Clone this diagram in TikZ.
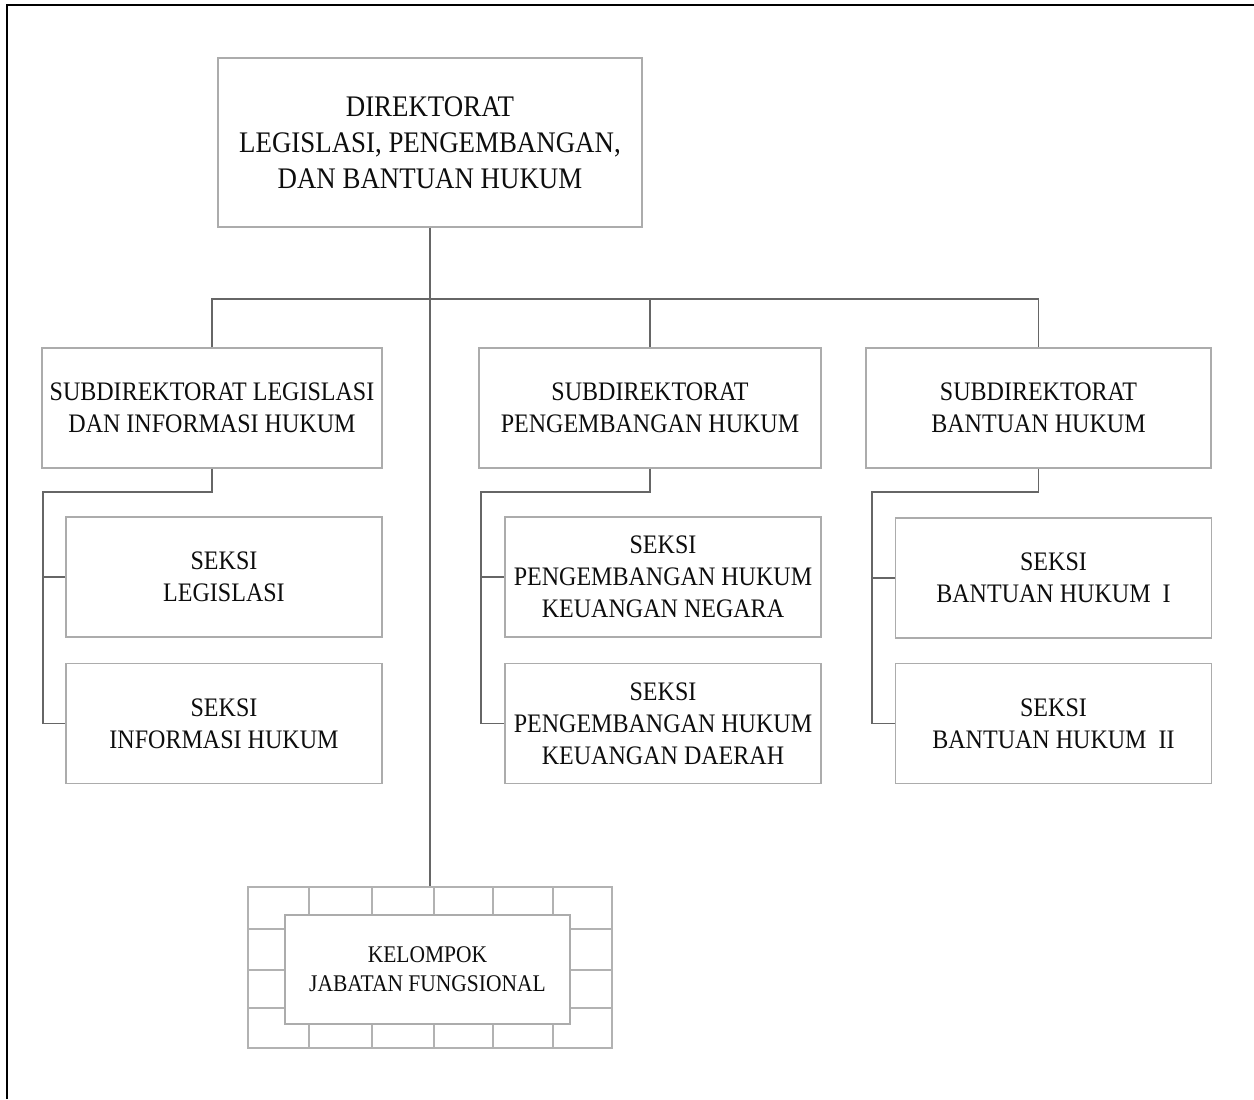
\documentclass[tikz,border=0pt]{standalone}
\usepackage{fontspec}
\setmainfont[FakeStretch=0.9]{Liberation Serif}
\usetikzlibrary{positioning}
\tikzset{
box/.style={ % Sets the properties for each unit box
draw=gray!65,
line width=0.8pt,
align=center,
inner sep=0pt,
text=black!95},
mainbox/.style={box, minimum width=8.48cm, minimum height=3.38cm, font=\fontsize{17}{20.5}\selectfont},
subbox/.style={box, minimum width=6.84cm, minimum height=2.4cm, font=\fontsize{15.2}{18.2}\selectfont},
seksibox/.style={box, minimum width=6.32cm, minimum height=2.4cm, font=\fontsize{15.2}{18.2}\selectfont},
kelbox/.style={box, fill=white, minimum width=5.7cm, minimum height=2.18cm, font=\fontsize{13.6}{16.4}\selectfont},
link/.style={draw=black!60, line width=0.8pt}, % Lines between the units
brick/.style={draw=gray!60, line width=0.7pt}}

\begin{document}
\begin{tikzpicture}[x=0.02cm, y=-0.02cm]
\useasboundingbox (0,0) rectangle (1254,1099);
\draw[line width=1.7pt] (7,1099) -- (7,5) -- (1254,5);
% units
\node[mainbox] (dir) at (430,142.5) {DIREKTORAT\\LEGISLASI, PENGEMBANGAN,\\DAN BANTUAN HUKUM};
\node[subbox, minimum width=6.8cm] (sub1) at (212,408) {SUBDIREKTORAT LEGISLASI\\DAN INFORMASI HUKUM};
\node[subbox] (sub2) at (650,408) {SUBDIREKTORAT\\PENGEMBANGAN HUKUM};
\node[subbox, minimum width=6.9cm] (sub3) at (1038.5,408) {SUBDIREKTORAT\\BANTUAN HUKUM};
\node[seksibox] (leg) at (224,577) {SEKSI\\LEGISLASI};
\node[seksibox, below=0.5cm of leg] (info) {SEKSI\\INFORMASI HUKUM};
\node[seksibox] (negara) at (663,577) {SEKSI\\PENGEMBANGAN HUKUM\\KEUANGAN NEGARA};
\node[seksibox, below=0.5cm of negara] (daerah) {SEKSI\\PENGEMBANGAN HUKUM\\KEUANGAN DAERAH};
\node[seksibox] (bh1) at (1053.5,578) {SEKSI\\BANTUAN HUKUM\ \ I};
\node[seksibox, below=0.48cm of bh1] (bh2) {SEKSI\\BANTUAN HUKUM\ \ II};
% functional group on a brick wall
\node[brick, minimum width=7.28cm, minimum height=3.22cm, inner sep=0pt] (grid) at (430,967.5) {};
\foreach \y in {929,970,1008}
  \draw[brick] (248,\y) -- (612,\y);
\foreach \x in {309,372,434,493,553} {
  \draw[brick] (\x,887) -- (\x,929);
  \draw[brick] (\x,1008) -- (\x,1048);
}
\node[kelbox] (kel) at (427.5,969.5) {KELOMPOK\\JABATAN FUNGSIONAL};
% connections
\coordinate (bus) at (430,299);
\coordinate (t1) at (43,492);
\coordinate (t2) at (481,492);
\coordinate (t3) at (872,492);
\draw[link] (dir.south) -- (grid.north);
\draw[link] (sub1.north) |- (bus) -| (sub3.north);
\draw[link] (sub2.north) -- (sub2.north |- bus);
\draw[link] (sub1.south) |- (t1) |- (info.west);
\draw[link] (t1 |- leg.west) -- (leg.west);
\draw[link] (sub2.south) |- (t2) |- (daerah.west);
\draw[link] (t2 |- negara.west) -- (negara.west);
\draw[link] (sub3.south) |- (t3) |- (bh2.west);
\draw[link] (t3 |- bh1.west) -- (bh1.west);
\end{tikzpicture}
\end{document}
